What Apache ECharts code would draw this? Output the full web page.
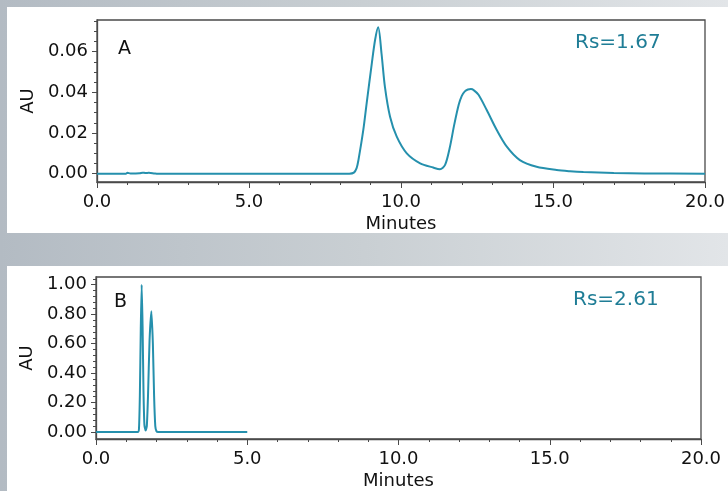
<!DOCTYPE html>
<html>
<head>
<meta charset="utf-8">
<script src="https://cdn.jsdelivr.net/npm/echarts@6/dist/echarts.min.js"></script>
<style>
  html, body { margin: 0; padding: 0; }
  #chart { width: 728px; height: 491px; }
</style>
</head>
<body>
<div id="chart"></div>
<script>
// panel A: two overlapping peaks (minutes, AU)
var timeA = [0, 0.95, 1.0, 1.1, 1.4, 1.5, 1.6, 1.7, 1.9, 2.0, 8.3, 8.45, 8.54, 8.6, 8.76, 8.87, 9.04, 9.15, 9.25,
  9.36, 9.47, 9.64, 9.86, 10.19, 10.63, 11.06, 11.28, 11.45, 11.6, 11.75, 11.9, 12.0, 12.1, 12.2, 12.3,
  12.4, 12.55, 12.82, 13.15, 13.48, 13.91, 14.46, 15.12, 15.56, 16.0, 17.0, 18.0, 20.0];
var auA = [0, 0, 0.0004, 0.0001, 0.0002, 0.0005, 0.0003, 0.0004, 0.0001, 0, 0, 0.0005, 0.0027, 0.0067, 0.0215, 0.0346, 0.0543, 0.066, 0.072,
  0.059, 0.0428, 0.028, 0.0182, 0.010, 0.0051, 0.003, 0.0022, 0.0043, 0.0125, 0.024, 0.034, 0.0383, 0.0405, 0.0414, 0.0416,
  0.041, 0.0388, 0.0313, 0.0215, 0.0133, 0.0067, 0.0034, 0.0018, 0.0012, 0.0008, 0.0003, 0.0001, 0];

// panel B: two resolved peaks
var timeB = [0, 1.38, 1.42, 1.45, 1.48, 1.51, 1.54, 1.57, 1.60, 1.64, 1.68, 1.72, 1.77, 1.83, 1.88, 1.92, 1.96, 2.0, 2.05, 5.0];
var auB = [0, 0, 0.02, 0.25, 0.7, 1.0, 0.72, 0.28, 0.05, 0.01, 0.04, 0.25, 0.62, 0.82, 0.6, 0.25, 0.04, 0.005, 0, 0];

var ticksA = [0, 0.02, 0.04, 0.06];
var minorA = [0.005, 0.01, 0.015, 0.025, 0.03, 0.035, 0.045, 0.05, 0.055, 0.065, 0.07, 0.075];
var ticksB = [0, 0.2, 0.4, 0.6, 0.8, 1.0];
var minorB = [0.04, 0.08, 0.12, 0.16, 0.24, 0.28, 0.32, 0.36, 0.44, 0.48, 0.52, 0.56,
  0.64, 0.68, 0.72, 0.76, 0.84, 0.88, 0.92, 0.96, 1.04];
var rsA = 'Rs=1.67';
var rsB = 'Rs=2.61';

var FONT = 'DejaVu Sans';
var INK = '#111';
var AXIS = '#4a4a4a';
var TEAL = '#2590ad';

function pairs(xs, ys) {
  return xs.map(function (x, i) { return [x, ys[i]]; });
}

function xAxisFor(grid) {
  return {
    type: 'value', gridIndex: grid, min: 0, max: 20, interval: 5,
    name: 'Minutes', nameLocation: 'middle', nameGap: 33,
    nameTextStyle: { fontFamily: FONT, fontSize: 18, color: INK },
    axisLine: { onZero: false, lineStyle: { color: AXIS, width: 1.3 } },
    axisTick: { length: 6, lineStyle: { color: AXIS } },
    minorTick: { show: true, splitNumber: 5, length: 3, lineStyle: { color: AXIS } },
    axisLabel: { fontFamily: FONT, fontSize: 18, color: INK, margin: 11,
      formatter: function (v) { return v.toFixed(1); } },
    splitLine: { show: false }
  };
}

function yAxisFor(grid, min, max, ticks, digits) {
  return {
    type: 'value', gridIndex: grid, min: min, max: max,
    name: 'AU', nameLocation: 'middle', nameGap: 59,
    nameTextStyle: { fontFamily: FONT, fontSize: 18, color: INK },
    axisLine: { show: true, lineStyle: { color: AXIS, width: 1.3 } },
    axisTick: { show: true, length: 5, customValues: ticks, lineStyle: { color: AXIS } },
    axisLabel: { fontFamily: FONT, fontSize: 18, color: INK, margin: 9, customValues: ticks,
      formatter: function (v) { return v.toFixed(digits); } },
    splitLine: { show: false }
  };
}

function minorAxisFor(grid, min, max, ticks) {
  return {
    type: 'value', gridIndex: grid, min: min, max: max, position: 'left',
    axisLine: { show: false },
    axisTick: { show: true, length: 3, customValues: ticks, lineStyle: { color: AXIS } },
    axisLabel: { show: false },
    splitLine: { show: false }
  };
}

var chart = echarts.init(document.getElementById('chart'));
chart.setOption({
  animation: false,
  backgroundColor: new echarts.graphic.LinearGradient(0, 0, 1, 0, [
    { offset: 0, color: '#b3bbc3' },
    { offset: 0.5, color: '#c9cfd3' },
    { offset: 1, color: '#e2e5e8' }
  ]),
  graphic: [
    { type: 'rect', z: -10, shape: { x: 7, y: 7, width: 721, height: 226 }, style: { fill: '#fff' } },
    { type: 'rect', z: -10, shape: { x: 7, y: 266, width: 721, height: 225 }, style: { fill: '#fff' } }
  ],
  title: [
    { text: 'A', left: 113, top: 35, textStyle: { fontFamily: FONT, fontSize: 19, fontWeight: 'normal', color: INK } },
    { text: rsA, left: 570, top: 28, textStyle: { fontFamily: FONT, fontSize: 20, fontWeight: 'normal', color: '#1f7d96' } },
    { text: 'B', left: 109, top: 288, textStyle: { fontFamily: FONT, fontSize: 19, fontWeight: 'normal', color: INK } },
    { text: rsB, left: 568, top: 285, textStyle: { fontFamily: FONT, fontSize: 20, fontWeight: 'normal', color: '#1f7d96' } }
  ],
  grid: [
    { left: 97, top: 20, right: 23, bottom: 309, show: true, borderColor: AXIS, borderWidth: 1.3,
      backgroundColor: 'transparent', outerBoundsMode: 'none' },
    { left: 96, top: 277, right: 27, bottom: 52, show: true, borderColor: AXIS, borderWidth: 1.3,
      backgroundColor: 'transparent', outerBoundsMode: 'none' }
  ],
  xAxis: [xAxisFor(0), xAxisFor(1)],
  yAxis: [
    yAxisFor(0, -0.0041, 0.0756, ticksA, 2),
    yAxisFor(1, -0.0475, 1.0525, ticksB, 2),
    minorAxisFor(0, -0.0041, 0.0756, minorA),
    minorAxisFor(1, -0.0475, 1.0525, minorB)
  ],
  series: [
    { type: 'line', xAxisIndex: 0, yAxisIndex: 0, data: pairs(timeA, auA), showSymbol: false,
      smooth: 0.3, lineStyle: { color: TEAL, width: 2 } },
    { type: 'line', xAxisIndex: 1, yAxisIndex: 1, data: pairs(timeB, auB), showSymbol: false,
      smooth: 0.2, lineStyle: { color: TEAL, width: 2 } }
  ]
});
</script>
</body>
</html>
